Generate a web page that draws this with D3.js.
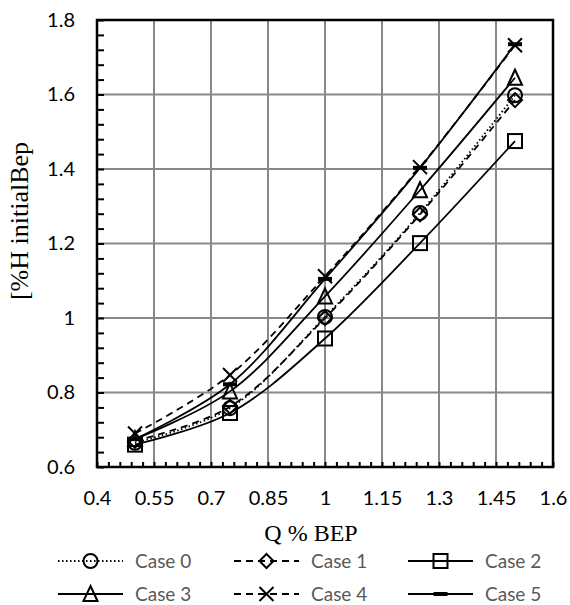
<!DOCTYPE html>
<html>
<head>
<meta charset="utf-8">
<script src="https://cdn.jsdelivr.net/npm/d3@7"></script>
<style>
  body { margin: 0; background: #fff; }
  svg { display: block; }
</style>
</head>
<body>
<svg id="chart" width="570" height="605"></svg>
<script>
// flow points (fraction of BEP)
const flows = [0.5, 0.75, 1.0, 1.25, 1.5];

// head values per case
const case0 = [0.665, 0.758, 1.003, 1.282, 1.598];
const case1 = [0.670, 0.762, 1.000, 1.278, 1.585];
const case2 = [0.660, 0.745, 0.945, 1.201, 1.475];
const case3 = [0.675, 0.803, 1.058, 1.343, 1.645];
const case4 = [0.690, 0.847, 1.112, 1.405, 1.732];
const case5 = [0.675, 0.822, 1.105, 1.403, 1.735];

const caseNames = ['Case 0', 'Case 1', 'Case 2', 'Case 3', 'Case 4', 'Case 5'];

const xTicks = [0.4, 0.55, 0.7, 0.85, 1.0, 1.15, 1.3, 1.45, 1.6];
const xTickLabels = ['0.4', '0.55', '0.7', '0.85', '1', '1.15', '1.3', '1.45', '1.6'];
const yTicks = [0.6, 0.8, 1.0, 1.2, 1.4, 1.6, 1.8];
const yTickLabels = ['0.6', '0.8', '1', '1.2', '1.4', '1.6', '1.8'];

const xTitle = 'Q % BEP';
const yTitle = '[%H initialBep';

const svg = d3.select('#chart');
const plotL = 97, plotR = 553, plotT = 20, plotB = 467;

const x = d3.scaleLinear().domain([0.4, 1.6]).range([plotL, plotR]);
const y = d3.scaleLinear().domain([0.6, 1.8]).range([plotB, plotT]);

// gridlines
svg.append('g')
  .selectAll('line')
  .data(xTicks.slice(1, -1))
  .join('line')
  .attr('x1', d => x(d)).attr('x2', d => x(d))
  .attr('y1', plotT).attr('y2', plotB)
  .attr('stroke', '#888').attr('stroke-width', 2);

svg.append('g')
  .selectAll('line')
  .data(yTicks.slice(1, -1))
  .join('line')
  .attr('x1', plotL).attr('x2', plotR)
  .attr('y1', d => y(d)).attr('y2', d => y(d))
  .attr('stroke', '#888').attr('stroke-width', 2);

// minor ticks (inside the plot)
const xMinor = d3.range(0.4, 1.6001, 0.03).map(v => +v.toFixed(2));
const yMinor = d3.range(0.6, 1.8001, 0.04).map(v => +v.toFixed(2));

svg.append('g')
  .attr('transform', `translate(0,${plotB})`)
  .call(d3.axisBottom(x).tickValues(xMinor).tickSize(-5).tickFormat(''))
  .call(g => g.select('.domain').remove())
  .selectAll('line').attr('stroke', '#000').attr('stroke-width', 2);

svg.append('g')
  .attr('transform', `translate(${plotL},0)`)
  .call(d3.axisLeft(y).tickValues(yMinor).tickSize(-7).tickFormat(''))
  .call(g => g.select('.domain').remove())
  .selectAll('line').attr('stroke', '#000').attr('stroke-width', 2);

// frame
svg.append('rect')
  .attr('x', plotL).attr('y', plotT)
  .attr('width', plotR - plotL).attr('height', plotB - plotT)
  .attr('fill', 'none').attr('stroke', '#000').attr('stroke-width', 2.5);

// tick labels
const xAxis = svg.append('g')
  .attr('transform', `translate(0,${plotB})`)
  .call(d3.axisBottom(x).tickValues(xTicks).tickSize(0).tickPadding(24)
    .tickFormat((d, i) => xTickLabels[i]));
xAxis.select('.domain').remove();
xAxis.selectAll('text')
  .attr('font-family', 'Lato, sans-serif').attr('font-size', 20).attr('fill', '#000');

const yAxis = svg.append('g')
  .attr('transform', `translate(${plotL},0)`)
  .call(d3.axisLeft(y).tickValues(yTicks).tickSize(0).tickPadding(22)
    .tickFormat((d, i) => yTickLabels[i]));
yAxis.select('.domain').remove();
yAxis.selectAll('text')
  .attr('font-family', 'Lato, sans-serif').attr('font-size', 20).attr('fill', '#000');

// axis titles
svg.append('text')
  .attr('x', 311).attr('y', 541)
  .attr('text-anchor', 'middle')
  .attr('font-family', '"Liberation Serif", "Times New Roman", serif')
  .attr('font-size', 24)
  .text(xTitle);

svg.append('text')
  .attr('transform', 'translate(28,221) rotate(-90)')
  .attr('text-anchor', 'middle')
  .attr('font-family', '"Liberation Serif", "Times New Roman", serif')
  .attr('font-size', 26)
  .text(yTitle);

// marker shapes, drawn around (0,0)
function drawMarker(g, kind) {
  const s = 7;
  if (kind === 'circle') {
    g.append('circle').attr('r', s).attr('fill', 'none').attr('stroke', '#000').attr('stroke-width', 2);
  } else if (kind === 'diamond') {
    g.append('path').attr('d', `M0,${-s}L${s},0L0,${s}L${-s},0Z`)
      .attr('fill', 'none').attr('stroke', '#000').attr('stroke-width', 2);
  } else if (kind === 'square') {
    g.append('rect').attr('x', -s).attr('y', -s).attr('width', 2 * s).attr('height', 2 * s)
      .attr('fill', 'none').attr('stroke', '#000').attr('stroke-width', 2);
  } else if (kind === 'triangle') {
    g.append('path').attr('d', `M0,${-s - 1}L${s},${s}L${-s},${s}Z`)
      .attr('fill', 'none').attr('stroke', '#000').attr('stroke-width', 2);
  } else if (kind === 'x') {
    g.append('path').attr('d', `M${-s},${-s}L${s},${s}M${s},${-s}L${-s},${s}`)
      .attr('fill', 'none').attr('stroke', '#000').attr('stroke-width', 2);
  } else if (kind === 'bar') {
    g.append('rect').attr('x', -s).attr('y', -2).attr('width', 2 * s).attr('height', 4)
      .attr('fill', '#000');
  }
}

const series = [
  { name: caseNames[0], values: case0, dash: '1.5,2.5', marker: 'circle' },
  { name: caseNames[1], values: case1, dash: '7,5', marker: 'diamond' },
  { name: caseNames[2], values: case2, dash: null, marker: 'square' },
  { name: caseNames[3], values: case3, dash: null, marker: 'triangle' },
  { name: caseNames[4], values: case4, dash: '7,5', marker: 'x' },
  { name: caseNames[5], values: case5, dash: null, marker: 'bar' }
];

const line = d3.line()
  .x((d, i) => x(flows[i]))
  .y(d => y(d))
  .curve(d3.curveCatmullRom.alpha(0.5));

const plot = svg.append('g');
series.forEach(s => {
  plot.append('path')
    .attr('d', line(s.values))
    .attr('fill', 'none')
    .attr('stroke', '#000')
    .attr('stroke-width', 1.8)
    .attr('stroke-dasharray', s.dash);
});
series.forEach(s => {
  s.values.forEach((v, i) => {
    const g = plot.append('g').attr('transform', `translate(${x(flows[i])},${y(v)})`);
    drawMarker(g, s.marker);
  });
});

// legend
const legendCols = [58, 234, 408];
const legendRows = [561, 594];
const legendLen = 65;

series.forEach((s, i) => {
  const lx = legendCols[i % 3];
  const ly = legendRows[Math.floor(i / 3)];
  const g = svg.append('g');
  g.append('line')
    .attr('x1', lx).attr('x2', lx + legendLen)
    .attr('y1', ly).attr('y2', ly)
    .attr('stroke', '#000').attr('stroke-width', 2)
    .attr('stroke-dasharray', s.dash);
  const m = g.append('g').attr('transform', `translate(${lx + legendLen / 2},${ly})`);
  drawMarker(m, s.marker);
  g.append('text')
    .attr('x', lx + legendLen + 12).attr('y', ly + 7)
    .attr('font-family', 'Lato, sans-serif').attr('font-size', 19)
    .attr('fill', '#595959')
    .text(s.name);
});
</script>
</body>
</html>
